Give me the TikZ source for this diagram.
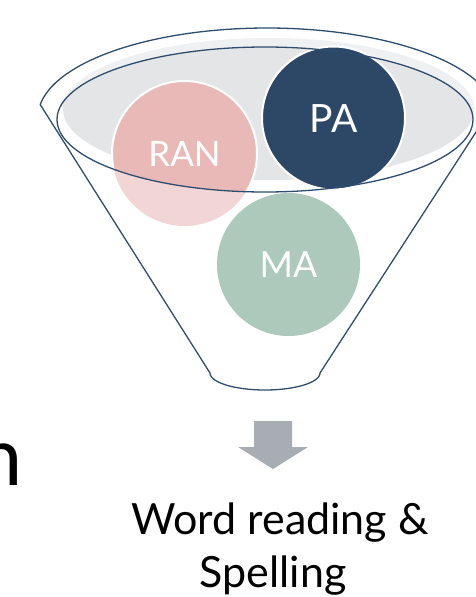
\documentclass[tikz,border=0pt]{standalone}
\usepackage{fontspec}
\setmainfont{Lato}
\definecolor{lineblue}{HTML}{2F4D6E}
\definecolor{paBlue}{HTML}{2C4866}
\definecolor{ranDark}{HTML}{E9B9B7}
\definecolor{ranLight}{HTML}{F2D5D5}
\definecolor{maGreen}{HTML}{ACC9BC}
\definecolor{grayDark}{HTML}{E4E5E7}
\definecolor{grayLight}{HTML}{EEF0F1}
\definecolor{arrowGray}{HTML}{A8ADB3}
\tikzset{
  outline/.style={draw=lineblue, line width=1.3pt},
  ballborder/.style={draw=white, line width=2pt},
  balllabel/.style={text=white, inner sep=0pt},
  caption/.style={text=black, inner sep=0pt, anchor=base, font=\fontsize{43}{50}\selectfont}
}
\begin{document}
\begin{tikzpicture}[x=1pt,y=-1pt]
\useasboundingbox (0,0) rectangle (476,597);
% funnel body
\draw[outline, fill=white, line join=round]
  plot[domain=188:352, samples=80, smooth] ({267+229*cos(\x)},{117+89*sin(\x)})
  -- (320,373)
  -- plot[domain=0:180, samples=40, smooth] ({265+55*cos(\x)},{373+17*sin(\x)})
  -- cycle;
% gray fill
\fill[grayLight] (268.5,109) ellipse[x radius=205.5, y radius=71];
\begin{scope}
  \clip (265,119.5) ellipse[x radius=208, y radius=72.5];
  \fill[grayDark] (268.5,109) ellipse[x radius=205.5, y radius=71];
\end{scope}
% RAN
\fill[ranLight] (184.5,153.5) circle[radius=72.5];
\begin{scope}
  \clip (265,119.5) ellipse[x radius=208, y radius=72.5];
  \fill[ranDark] (184.5,153.5) circle[radius=72.5];
  \draw[ballborder] (184.5,153.5) circle[radius=72.5];
\end{scope}
% PA
\draw[ballborder, fill=paBlue] (333.5,118) circle[radius=71.5];
% inner ellipse outline
\draw[outline] (265,119.5) ellipse[x radius=208, y radius=72.5];
% MA
\fill[maGreen] (288.5,264.5) circle[radius=71.5];
% labels
\node[balllabel, font=\fontsize{35}{40}\selectfont] (ran) at (184.5,154) {RAN};
\node[balllabel, font=\fontsize{39}{44}\selectfont] (pa) at (333.5,119) {PA};
\node[balllabel, font=\fontsize{36}{42}\selectfont] (ma) at (288.5,265) {MA};
% arrow
\fill[arrowGray] (254,421) -- (292,421) -- (292,447) -- (308,447) -- (273,469) -- (238,447) -- (254,447) -- cycle;
% caption
\node[caption] (line1) at (280,534) {Word reading \&};
\node[caption] (line2) at (273,587) {Spelling};
% cut-off letter
\node[inner sep=0pt, anchor=base east, font=\fontsize{81}{90}\selectfont] (cut) at (22.5,485) {n};
\end{tikzpicture}
\end{document}
